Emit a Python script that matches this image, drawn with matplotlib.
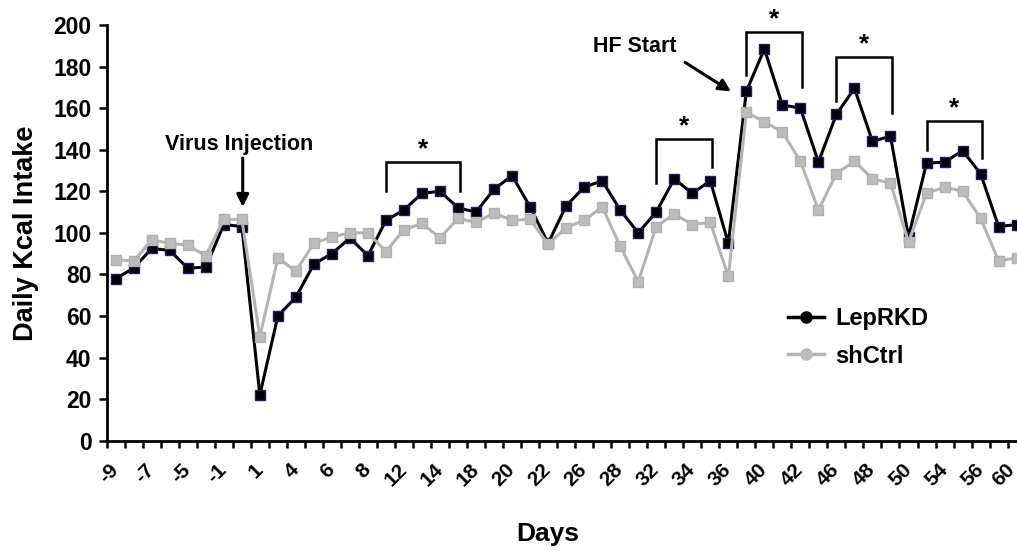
import matplotlib
matplotlib.use("Agg")
import matplotlib.pyplot as plt
from matplotlib.lines import Line2D

plt.rcParams['font.family'] = ['Liberation Sans', 'DejaVu Sans']
plt.rcParams['font.weight'] = 'bold'

# days on the category axis (only every other one is labelled)
days = [-9, -8, -7, -6, -5, -3, -1, 0, 1, 3, 4, 5, 6, 7, 8, 11, 12, 13, 14, 15,
        18, 19, 20, 21, 22, 25, 26, 27, 28, 29, 32, 33, 34, 35, 36, 39, 40, 41, 42, 43,
        46, 47, 48, 49, 50, 53, 54, 55, 56, 57, 60]

leprkd = [78, 83, 92.5, 91.5, 83, 83.5, 104, 103, 22, 60,
          69, 85, 90, 97.5, 89, 106, 111, 119, 120, 112,
          110, 121, 127.5, 112.5, 95, 113, 122, 125, 111, 100,
          110, 126, 119, 125, 95, 168, 188.5, 161.5, 160, 134,
          157, 169.5, 144, 146.5, 98, 133.5, 134, 139.5, 128.5, 103,
          104]

shctrl = [87, 86.5, 96.5, 95, 94, 89, 106.5, 106.5, 50, 88,
          81.5, 95, 98, 100, 100, 91, 101.5, 104.5, 97.5, 107,
          105, 109.5, 106, 106.5, 94.5, 102.5, 106, 112.5, 93.5, 76.5,
          103, 109, 104, 105, 79, 158, 153.5, 148.5, 134.5, 111,
          128.5, 134.5, 126, 124, 95.5, 119, 122, 120, 107, 86.5,
          88]

# significance brackets: first point, last point, top, left leg end, right leg end
br_start = [15, 30, 35, 40, 45]
br_end = [19, 33, 38, 43, 48]
br_top = [134, 145, 196.5, 184.5, 154]
br_left = [120, 124, 176, 163.5, 140]
br_right = [120, 131.5, 170, 157.5, 136]

fig = plt.figure(figsize=(10.17, 5.51), dpi=100)
ax = fig.add_axes([0.1049, 0.2002, 0.905, 0.7545])

x = list(range(len(days)))
ax.plot(x, leprkd, color='black', lw=2.2, marker='s', ms=7.5,
        mfc='black', mec='#1c1c70', mew=1.0, zorder=3)
ax.plot(x, shctrl, color='#b4b4b4', lw=2.2, marker='s', ms=7.5,
        mfc='#bcbcbc', mec='#b0b0b0', mew=1.0, zorder=4)

for s, e, t, l, r in zip(br_start, br_end, br_top, br_left, br_right):
    ax.plot([s, s, e + 0.1, e + 0.1], [l, t, t, r], color='black', lw=1.8,
            solid_joinstyle='miter', zorder=5)
    ax.text((s + e + 0.1) / 2, t + 0.3, '*', ha='center', va='bottom',
            fontsize=19, fontweight='bold')

ax.text(6.85, 142.7, 'Virus Injection', ha='center', va='center',
        fontsize=15.5, fontweight='bold')
ax.annotate('', xy=(7.05, 112.5), xytext=(7.05, 136),
            arrowprops=dict(arrowstyle='-|>', lw=2.2, color='black',
                            mutation_scale=18, shrinkA=0, shrinkB=0))

ax.text(28.8, 189.4, 'HF Start', ha='center', va='center',
        fontsize=15.5, fontweight='bold')
ax.annotate('', xy=(34.15, 168), xytext=(31.6, 182),
            arrowprops=dict(arrowstyle='-|>', lw=2.2, color='black',
                            mutation_scale=18, shrinkA=0, shrinkB=0))

ax.set_xlim(-0.42, 50.58)
ax.set_ylim(0, 200)
ax.set_yticks(range(0, 201, 20))
ax.set_xticks([i + 0.5 for i in range(-1, len(days))], minor=False)
ax.set_xticklabels([])
# every other day is labelled; the last one is drawn by hand a bit to the left
lab_pos = x[::2]
lab_txt = [str(d) for d in days[::2]]
ax.set_xticks(lab_pos[:-1], minor=True)
ax.set_xticklabels(lab_txt[:-1], minor=True, rotation=45,
                   ha='right', va='center', rotation_mode='anchor')
ax.annotate(lab_txt[-1], xy=(lab_pos[-1], 0), xycoords=('data', 'axes fraction'),
            xytext=(-3.5, -19), textcoords='offset points', rotation=45,
            ha='right', va='center', rotation_mode='anchor',
            fontsize=15, fontweight='bold', annotation_clip=False)
ax.tick_params(axis='x', which='minor', length=0, pad=19, labelsize=15)
ax.tick_params(axis='x', which='major', direction='out', length=5, width=1.8)
ax.tick_params(axis='y', direction='out', length=6, width=1.8, labelsize=16.5, pad=5)
for lab in ax.get_xticklabels(minor=True) + ax.get_yticklabels():
    lab.set_fontweight('bold')

for side in ['top', 'right']:
    ax.spines[side].set_visible(False)
for side in ['left', 'bottom']:
    ax.spines[side].set_linewidth(2)

ax.set_ylabel('Daily Kcal Intake', fontsize=19.5, fontweight='bold', labelpad=10)
fig.text(548 / 1017, 1 - 534 / 551, 'Days', ha='center', va='center',
         fontsize=19, fontweight='bold')

handles = [Line2D([], [], color='black', lw=2.5, marker='o', ms=8, mfc='black', mec='black'),
           Line2D([], [], color='#b4b4b4', lw=2.5, marker='o', ms=8, mfc='#bcbcbc', mec='#bcbcbc')]
ax.legend(handles, ['LepRKD', 'shCtrl'], loc='upper left', bbox_to_anchor=(0.717, 0.373),
          frameon=False, prop={'size': 17, 'weight': 'bold'}, handlelength=1.55,
          handletextpad=0.45, labelspacing=0.62)

fig.savefig('out.png', dpi=100)
